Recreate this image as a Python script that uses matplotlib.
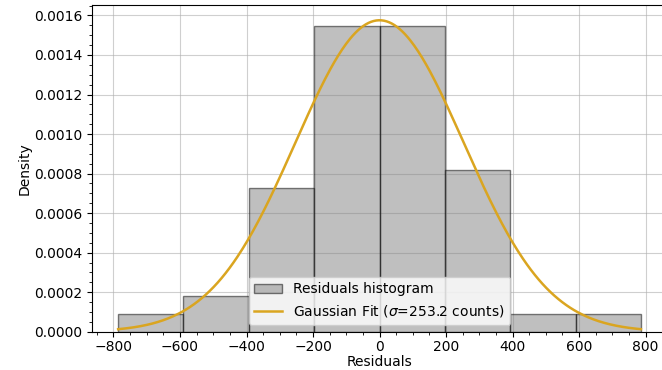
import matplotlib.pyplot as plt
import numpy as np

bin_edges = [-786.0, -589.5, -393.0, -196.5, 0.0, 196.5, 393.0, 589.5, 786.0]
bin_counts = [1, 2, 8, 17, 17, 9, 1, 1]
sigma = 253.2
mu = 0.0

edges = np.array(bin_edges)
counts = np.array(bin_counts)
centers = 0.5 * (edges[:-1] + edges[1:])

fig = plt.figure(figsize=(6.62, 3.70), dpi=100)
ax = fig.add_axes([0.139, 0.1035, 0.8686, 0.8838])

ax.hist(
    centers,
    bins=edges,
    weights=counts,
    density=True,
    color="gray",
    alpha=0.5,
    edgecolor="black",
    label="Residuals histogram",
)

x = np.linspace(edges[0], edges[-1], 400)
pdf = np.exp(-0.5 * ((x - mu) / sigma) ** 2) / (sigma * np.sqrt(2 * np.pi))
ax.plot(x, pdf, color="goldenrod", linewidth=1.8, label=f"Gaussian Fit ($\\sigma$={sigma:.1f} counts)")

ax.tick_params(axis="x", pad=2.5)
ax.set_xlabel("Residuals", labelpad=1)
ax.set_ylabel("Density", labelpad=1.5)
ax.minorticks_on()
ax.grid(True, which="major", alpha=0.6)
ax.set_axisbelow(True)
ax.legend(loc="lower center")

fig.savefig("out.png", dpi=100)
